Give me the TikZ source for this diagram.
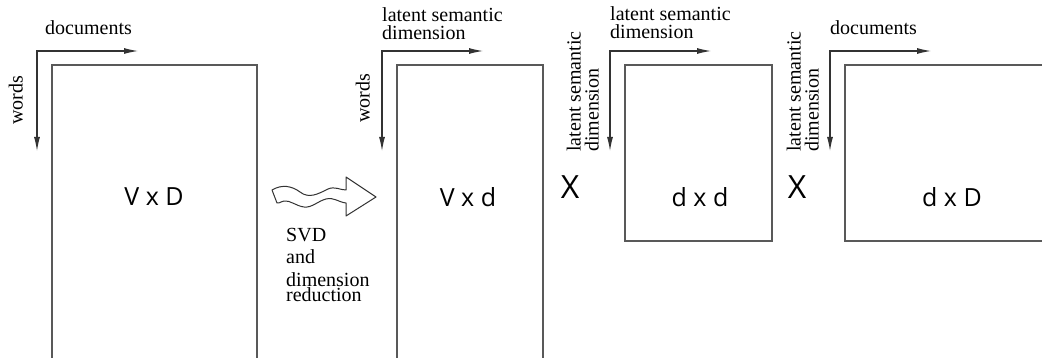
\documentclass[tikz,border=0pt]{standalone}
\usepackage{fontspec}
\setmainfont{Liberation Serif}
\newfontfamily\dimfont{Open Sans}
\usetikzlibrary{arrows.meta}
\usetikzlibrary{positioning}

\begin{document}
\begin{tikzpicture}[x=1pt, y=-1pt,
	mbox/.style={draw=black!65, line width=1.3pt, anchor=north west, inner sep=0pt, outer sep=0pt},
	axis/.style={draw=black!80, line width=1.1pt, {Latex[length=14pt,width=6pt]}-{Latex[length=14pt,width=6pt]}},
	txt/.style={font=\fontsize{20}{18}\selectfont, inner sep=0pt, align=left},
	dimlabel/.style={font=\fontsize{25}{30}\dimfont, inner sep=0pt},
	timessign/.style={font=\fontsize{32}{36}\dimfont, inner sep=0pt},
	wavy/.style={draw=black!80, line width=1pt, line join=round, fill=white}]
	\clip (0,0) rectangle (1042,358);
	\fill[white] (0,0) rectangle (1042,358);

	% word-document matrix
	\node[mbox, minimum width=205pt, minimum height=300pt](VD) at (52,65){};
	\coordinate[above left=14pt and 15pt of VD.north west](VD_o);
	\coordinate[right=101pt of VD_o](VD_x);
	\coordinate[below=100pt of VD_o](VD_y);
	\draw[axis] (VD_y) -- (VD_o) -- (VD_x);
	\node[txt, above right=16pt and 8pt of VD_o](VD_top){documents};
	\node[txt, rotate=90, anchor=south west](VD_side) at (23,125){words};
	\node[dimlabel](VD_lbl) at (154,197){V x D};

	% svd step
	\draw[wavy] (272,190) .. controls (282,184) and (292,186) .. (300,192)
		.. controls (309,199) and (318,194) .. (328,189)
		.. controls (335,186) and (340,190) .. (346,190)
		-- (346,177) -- (376,197) -- (346,216) -- (346,203)
		.. controls (338,202) and (334,197) .. (326,199)
		.. controls (318,201) and (312,208) .. (304,207)
		.. controls (296,206) and (290,200) .. (284,201)
		.. controls (280,202) and (278,204) .. (277,203) -- cycle;
	\node[txt, font=\fontsize{20}{22.5}\selectfont, anchor=north west](svd) at (286,228){SVD\\and\\dimension\\[-7pt]reduction};

	% word-concept matrix
	\node[mbox, minimum width=146pt, minimum height=300pt](Vd) at (397,65){};
	\coordinate[above left=14pt and 15pt of Vd.north west](Vd_o);
	\coordinate[right=101pt of Vd_o](Vd_x);
	\coordinate[below=100pt of Vd_o](Vd_y);
	\draw[axis] (Vd_y) -- (Vd_o) -- (Vd_x);
	\node[txt, above right=11pt and 0pt of Vd_o](Vd_top){latent semantic\\dimension};
	\node[txt, rotate=90, anchor=south west](Vd_side) at (370,123){words};
	\node[dimlabel](Vd_lbl) at (468,197){V x d};

	\node[timessign](times1) at (570,187){X};

	% concept-concept matrix
	\node[mbox, minimum width=147pt, minimum height=176pt](dd) at (625,65){};
	\coordinate[above left=14pt and 15pt of dd.north west](dd_o);
	\coordinate[right=101pt of dd_o](dd_x);
	\coordinate[below=100pt of dd_o](dd_y);
	\draw[axis] (dd_y) -- (dd_o) -- (dd_x);
	\node[txt, above right=12pt and 0pt of dd_o](dd_top){latent semantic\\dimension};
	\node[txt, rotate=90, anchor=south west](dd_side) at (599,152){latent semantic\\dimension};
	\node[dimlabel](dd_lbl) at (700,197){d x d};

	\node[timessign](times2) at (797,187){X};

	% concept-document matrix
	\node[mbox, minimum width=230pt, minimum height=176pt](dD) at (845,65){};
	\coordinate[above left=14pt and 15pt of dD.north west](dD_o);
	\coordinate[right=101pt of dD_o](dD_x);
	\coordinate[below=100pt of dD_o](dD_y);
	\draw[axis] (dD_y) -- (dD_o) -- (dD_x);
	\node[txt, above right=16pt and 0pt of dD_o](dD_top){documents};
	\node[txt, rotate=90, anchor=south west](dD_side) at (819,152){latent semantic\\dimension};
	\node[dimlabel](dD_lbl) at (952,197){d x D};
\end{tikzpicture}
\end{document}
